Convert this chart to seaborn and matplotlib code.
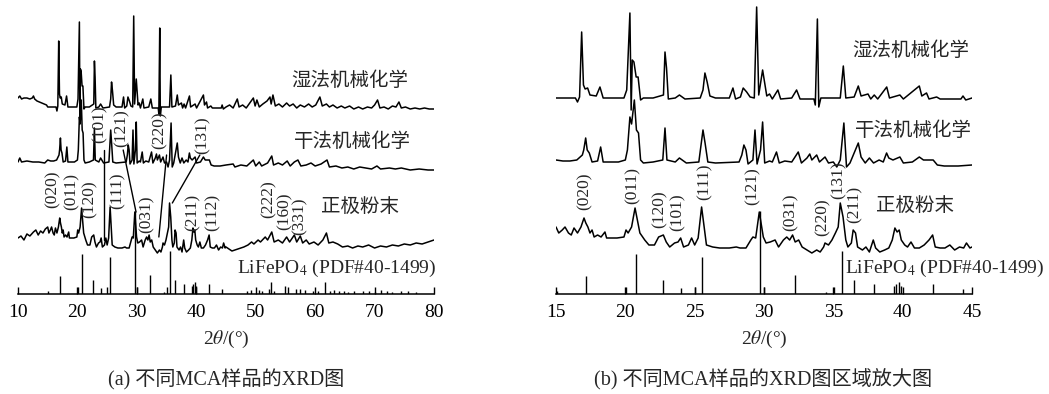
import matplotlib
matplotlib.use("Agg")
import matplotlib.pyplot as plt
import pandas as pd
import seaborn as sns

# ---------------- data (2theta in degrees, intensity in a.u.) ----------------
wet_theta = [10.0, 10.3, 10.6, 11.0, 11.5, 12.0, 12.4, 12.6, 12.8, 13.2, 14.0, 14.8,
             15.0, 16.4, 16.55, 16.7, 16.85, 16.98, 17.1, 17.28, 17.45, 17.9, 18.17, 18.4,
             19.9, 20.1, 20.33, 20.42, 20.5, 20.62, 20.78, 20.92, 21.1, 21.3, 22.0, 22.75,
             22.86, 22.97, 23.1, 23.6, 23.9, 24.1, 24.3, 25.4, 25.6, 25.74, 25.9, 26.1, 26.5,
             27.5, 27.76, 27.95, 28.3, 28.5, 28.75, 29.0, 29.3, 29.47, 29.62, 29.9, 30.05,
             30.2, 30.4, 30.6, 31.0, 31.2, 32.0, 32.35, 32.6, 33.6, 33.7, 33.85, 33.95, 34.1,
             35.5, 35.72, 35.9, 36.5, 36.8, 37.0, 37.5, 37.7, 37.95, 38.2, 38.85, 39.05,
             39.8, 40.05, 41.2, 41.38, 41.72, 41.9, 42.45, 42.7, 44.2, 44.35, 44.55, 45.0,
             45.6, 46.2, 46.9, 47.2, 47.8, 48.4, 49.0, 49.6, 49.9, 50.2, 50.6, 51.2, 51.9,
             52.4, 52.6, 52.9, 53.3, 53.9, 54.5, 55.2, 55.7, 56.3, 56.9, 57.5, 58.2, 58.9,
             59.5, 60.1, 60.8, 61.2, 61.9, 62.4, 63.0, 63.7, 64.4, 65.0, 65.8, 66.5, 67.3,
             68.0, 68.8, 69.5, 70.0, 70.5, 70.9, 71.6, 72.3, 73.0, 73.6, 74.1, 74.5, 75.2,
             76.0, 76.8, 77.6, 78.4, 79.2, 80.0]
wet_int = [9, 11, 8, 9, 9, 8, 9, 11, 8, 6, 4, 2,
           0, 0, -4, 1, 66, 13, 9, 10, 3, 2, 11, 0,
           0, 8, 85, -12, 38, 36, 21, 21, -2, 0, 0, 3,
           46, 30, -1, 0, 3, 1, -1, 0, 8, 25, 16, 2, 0,
           0, 10, -1, 1, 10, 6, 1, 0, 91, 3, 28, 15,
           2, 4, -1, 8, -1, 0, 8, -1, -1, -7, 79, -9, 0,
           0, 32, 0, 1, 12, 2, 4, -1, 3, -1, 11, 0,
           3, -1, 12, 2, 5, -1, 1, -1, -1, 2, -2, 0,
           2, -1, 8, 0, 2, -1, 4, 9, 1, 7, 0, 3, 6,
           10, 3, 12, 1, 3, 0, 4, 1, 3, -1, 2, 0, 3,
           0, 2, 10, 1, 3, 0, 2, -1, 1, -1, 1, -2, 0,
           -2, 0, -1, 2, 7, -1, 0, -2, 1, 0, 5, -1, 0,
           -2, -1, -2, -1, -2, -2]

dry_theta = [10.0, 10.3, 10.6, 11.5, 12.5, 13.5, 14.5,
             15.0, 15.5, 16.0, 16.5, 16.9, 17.0, 17.14, 17.25, 17.4, 17.6, 18.0, 18.22,
             18.4, 19.5, 20.0, 20.15, 20.33, 20.45, 20.65, 20.8, 20.95, 21.1, 21.3, 22.0,
             22.7, 22.86, 23.0, 23.6, 23.9, 24.2, 24.4, 25.3, 25.6, 25.75, 25.95, 26.5,
             28.2, 28.4, 28.55, 28.7, 28.85, 29.2, 29.35, 29.5, 29.75, 29.9, 30.05, 30.4,
             30.6, 30.9, 31.1, 31.5, 32.0, 32.47, 32.7, 33.1, 33.3, 33.45, 33.8, 34.0, 34.4,
             34.65, 35.0, 35.25, 35.5, 35.76, 35.95, 36.2, 36.8, 37.0, 37.3, 37.6, 37.9,
             38.3, 38.6, 38.84, 39.0, 39.3, 39.8, 40.05, 40.7, 41.2, 41.5, 41.8, 42.2, 42.5,
             43.0, 44.0, 45.0,
             46.2, 46.5, 47.5, 48.5, 49.6, 50.0, 50.6, 51.0, 52.0, 52.7, 53.0, 53.8, 54.5,
             55.3, 55.8, 56.5, 57.1, 57.6, 58.5, 59.3, 60.0, 61.0, 62.0, 62.4, 63.5, 64.5,
             65.5, 66.5, 67.5, 68.5, 69.5, 70.4, 71.0, 72.5, 73.5, 74.5, 76.0, 77.5, 79.0,
             80.0]
dry_int = [1, 5, 1, 2, 1, 1, 0,
           3, 2, 2, 3, 8, 13, 25, 13, 10, 1, 2, 16,
           1, 1, 3, 13, 46, 39, 63, 33, 30, 3, 0, 1,
           3, 35, 3, 1, 5, 2, 0, 1, 33, 20, 1, 0,
           1, 8, 18, 13, -1, 3, 33, -1, 13, 41, 0, 2,
           1, 11, 0, 2, 1, 11, 0, 5, 9, 3, 8, 1, 6,
           0, 1, -4, 3, 40, -4, 0, 20, 6, 0, 5, 0,
           3, 1, 10, 5, 3, 6, 0, 1, 6, 3, 3, 3, -2,
           -3, -3, -2,
           -1, -4, -2, -3, 3, -3, 1, -3, 0, 7, -2, 0, -2,
           2, -3, 1, 3, -3, -2, 0, -3, -1, 3, -4, -3, -5,
           -4, -6, -4, -5, -6, -3, -6, -5, -6, -5, -7, -6, -7,
           -7]

cat_theta = [10.0, 10.5, 11.0, 11.5, 12.0, 12.6, 13.0, 13.4, 13.8, 14.2, 14.6,
             15.0, 15.2, 15.45, 15.65, 15.9, 16.1, 16.3, 16.55, 16.8, 17.02, 17.15, 17.3,
             17.45, 17.6, 17.75, 18.0, 18.25, 18.53, 18.65, 19.4, 19.9, 20.05, 20.2, 20.45,
             20.7, 20.87, 21.05, 21.4, 21.7, 22.1, 22.4, 22.74, 22.95, 23.2, 23.55, 23.8,
             23.99, 24.2, 24.55, 24.78, 25.0, 25.25, 25.5, 25.68, 25.85, 26.3, 26.8, 27.5,
             28.0, 28.27, 28.7, 29.05, 29.2, 29.4, 29.66, 29.83, 29.95, 30.15, 30.45, 30.8,
             31.05, 31.4, 31.64, 31.85, 32.06, 32.25, 32.5, 32.75, 33.1, 33.45, 33.8, 34.05,
             34.3, 34.4, 34.65, 34.9, 35.15, 35.35, 35.5, 35.7, 35.9, 36.05, 36.3, 36.43,
             36.6, 36.75, 37.1, 37.35, 37.6, 37.88, 38.05, 38.35, 38.7, 39.0, 39.25, 39.44,
             39.6, 39.75, 39.9, 40.15, 40.35, 40.6, 40.85, 41.2, 41.55, 41.9, 42.16, 42.35,
             42.7, 43.05, 43.4, 43.75, 44.1, 44.4, 44.6, 44.85, 45.0,
             46.0, 47.0, 48.0, 48.7, 49.3, 49.7, 50.4, 50.8, 51.6, 52.0, 52.7, 53.1, 53.8,
             54.5, 55.2, 55.7, 56.5, 56.9, 57.5, 57.9, 58.5, 59.0, 59.8, 60.5, 61.3, 61.9,
             62.3, 63.0, 63.8, 64.6, 65.5, 66.3, 67.2, 68.0, 69.0, 70.0, 71.0, 72.0, 73.0,
             74.0, 75.0, 76.0, 77.0, 78.0, 79.0, 80.0]
cat_int = [7, 9, 5, 11, 9, 13, 15, 10, 14, 12, 16,
           18, 12, 15, 18, 12, 10, 17, 12, 18, 27, 22, 18,
           12, 15, 8, 10, 8, 13, 7, 7, 8, 15, 12, 18,
           37, 25, 12, 5, 0, 0, 8, 10, 3, -2, 2, 3,
           7, -2, 0, 7, 0, 7, 38, 18, 0, -2, -3, -3,
           -2, -3, -3, 5, 8, 7, 33, 18, 8, 2, 3, 5,
           -2, 5, 8, 5, 10, 3, 5, -2, -5, -8, -5, -7,
           -2, 2, 0, 5, 12, 18, 42, 28, 5, -2, 2, 15,
           12, -2, -5, -2, -7, 5, -3, -7, -5, -3, 5, 17,
           13, 15, 5, 0, -2, 3, -3, -3, 0, 5, 10, -2,
           -3, -3, 0, -5, -2, -3, 2, -3, -2,
           -6, -4, -2, 0, 3, 1, 5, 3, 8, 5, 13, 3, 5,
           2, 8, 3, 10, 3, 9, 2, 5, 1, 3, 0, 5, 12,
           2, 3, 1, -2, -1, -3, -1, -2, 0, -3, -1, -2, 0,
           -1, 1, 0, 2, 1, 3, 5]

# LiFePO4 standard pattern (PDF#40-1499)
stick_theta = [15.1, 17.15, 20.05, 20.78, 22.7, 24.05, 25.0, 25.56, 29.7, 30.0, 32.2,
               34.5, 35.05, 35.6, 36.5, 37.9, 39.35, 39.5, 39.7, 39.9, 42.2, 44.35,
               48.6, 49.2, 50.6, 51.0, 52.2, 52.5, 53.0, 55.0, 55.5, 56.7, 57.5, 58.3,
               59.7, 60.4, 61.6, 62.5, 63.2, 64.0, 64.8, 65.5, 66.5, 68.1, 69.0, 70.0,
               71.1, 72.1, 73.0, 74.4, 75.6, 77.0]
stick_int = [3, 18, 7, 40, 14, 6, 7, 37, 83, 7, 19,
             2, 7, 43, 14, 10, 8, 10, 12, 8, 10, 5,
             3, 4, 4, 3, 5, 12, 3, 8, 7, 5, 5, 4,
             3, 3, 12, 3, 4, 3, 3, 2, 3, 3, 3, 2,
             4, 3, 2, 3, 3, 2]

sample_names = ["湿法机械化学", "干法机械化学", "正极粉末"]

hkl_a = ["(020)", "(011)", "(120)", "(111)", "(031)", "(211)", "(112)", "(222)", "(160)", "(331)",
         "(101)", "(121)", "(220)", "(131)"]
hkl_a_x = [15.9, 19.1, 22.1, 26.7, 31.7, 39.45, 42.8, 52.2, 54.9, 57.45, 23.8, 27.5, 33.9, 41.1]
hkl_a_y = [105, 102, 95, 103, 80, 82, 82, 95, 83, 78, 170, 166, 164, 159]

hkl_b = ["(020)", "(011)", "(120)", "(101)", "(111)", "(121)", "(031)", "(220)", "(131)", "(211)"]
hkl_b_x = [17.09, 20.55, 22.5, 23.8, 25.74, 29.2, 31.95, 34.25, 35.4, 36.56]
hkl_b_y = [103, 109, 85, 82, 112, 108, 82, 77, 114, 90]

# ---------------- style ----------------
sns.set_theme(style="white")
serif = ["Liberation Serif", "Noto Sans CJK SC", "DejaVu Sans"]
cjk = ["Noto Sans CJK SC", "DejaVu Sans"]
plt.rcParams["font.family"] = serif
plt.rcParams["mathtext.fontset"] = "stix"
plt.rcParams["axes.unicode_minus"] = False

W, H = 1049, 394
fig = plt.figure(figsize=(W / 100, H / 100), dpi=100)
fig.patch.set_facecolor("white")


def px_axes(x0, x1, y0=0, y1=294):
    return fig.add_axes([x0 / W, 1 - y1 / H, (x1 - x0) / W, (y1 - y0) / H])


ax_a = px_axes(18, 434)
ax_b = px_axes(556, 972)

curves = [(wet_theta, wet_int), (dry_theta, dry_int), (cat_theta, cat_int)]


def draw_panel(ax, offsets, xlim, ticks, label_pos):
    frames = []
    for name, (tt, ii), off in zip(sample_names, curves, offsets):
        frames.append(pd.DataFrame({"theta": tt, "y": [v + off for v in ii], "sample": name}))
    df = pd.concat(frames, ignore_index=True)
    sns.lineplot(data=df, x="theta", y="y", hue="sample", units="sample", estimator=None,
                 sort=False, palette={n: "black" for n in sample_names}, legend=False,
                 linewidth=1.1, ax=ax)
    ax.vlines(stick_theta, 0, stick_int, colors="black", linewidth=1.0)
    ax.set_xlim(*xlim)
    ax.set_ylim(0, 294)
    ax.set_xticks(ticks)
    ax.set_xticklabels([str(t) for t in ticks], fontsize=14)
    ax.set_yticks([])
    ax.set_ylabel("")
    ax.set_xlabel(r"2$\theta$/(°)", fontsize=14, labelpad=6)
    for s in ["left", "top", "right"]:
        ax.spines[s].set_visible(False)
    ax.spines["bottom"].set_color("black")
    ax.spines["bottom"].set_linewidth(1.1)
    ax.tick_params(axis="x", direction="in", length=5, width=1, colors="black", pad=7,
                   bottom=True)
    ax.set_facecolor("none")
    ax.patch.set_alpha(0)
    ax.grid(False)
    (xw, yw), (xd, yd), (xc, yc), (xs, ys) = label_pos
    ax.text(xw, yw, sample_names[0], fontsize=14, family=cjk, ha="center", va="center")
    ax.text(xd, yd, sample_names[1], fontsize=14, family=cjk, ha="center", va="center")
    ax.text(xc, yc, sample_names[2], fontsize=14, family=cjk, ha="center", va="center")
    ax.text(xs, ys, r"LiFePO$_4$ (PDF#40-1499)", fontsize=14, ha="left", va="center",
            clip_on=False)


draw_panel(ax_a, [187, 131, 49], (10, 80), [10, 20, 30, 40, 50, 60, 70, 80],
           [(65.9, 214), (66.2, 153), (67.5, 88), (46.9, 26)])
draw_panel(ax_b, [196, 131, 49], (15, 45), [15, 20, 25, 30, 35, 40, 45],
           [(40.6, 244), (40.8, 164), (40.9, 89), (35.85, 26)])

for lab, x, y in zip(hkl_a, hkl_a_x, hkl_a_y):
    ax_a.text(x, y, lab, rotation=90, fontsize=12.5, ha="center", va="center")
for lab, x, y in zip(hkl_b, hkl_b_x, hkl_b_y):
    ax_b.text(x, y, lab, rotation=90, fontsize=12.5, ha="center", va="center")

# leader lines in panel (a)
leaders = [((24.52, 144), (24.52, 54)), ((27.7, 144), (29.86, 82)),
           ((35.0, 139), (33.7, 57)), ((40.6, 139), (35.97, 91))]
for (x0, y0), (x1, y1) in leaders:
    ax_a.plot([x0, x1], [y0, y1], color="black", linewidth=1.0)

fig.text(226 / W, 1 - 380 / H, "(a) 不同MCA样品的XRD图", fontsize=14.5, ha="center",
         va="center", family=serif)
fig.text(763 / W, 1 - 380 / H, "(b) 不同MCA样品的XRD图区域放大图", fontsize=14.5,
         ha="center", va="center", family=serif)

fig.savefig("out.png", dpi=100, facecolor="white")
